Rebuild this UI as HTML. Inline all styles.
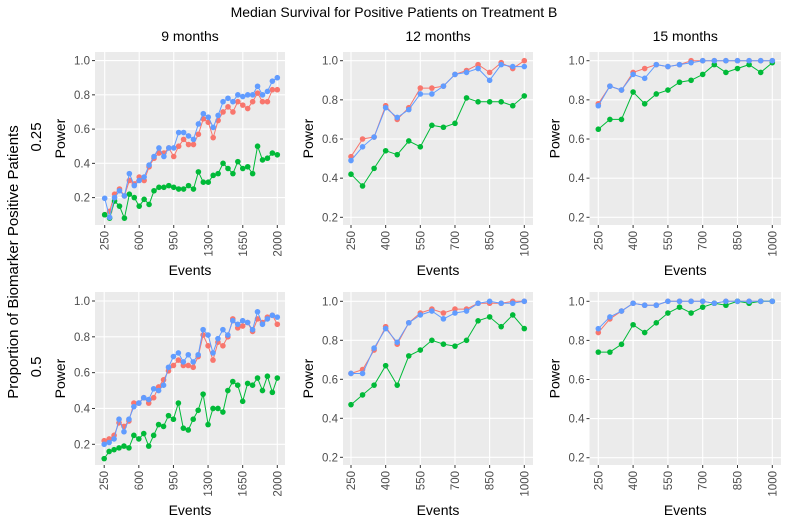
<!DOCTYPE html>
<html><head><meta charset="utf-8"><style>
body{margin:0;background:#fff;}
svg{display:block;font-family:"Liberation Sans",Arial,sans-serif;}
</style></head><body>
<svg id="chart" width="788" height="527" viewBox="0 0 788 527">
<text x="394" y="17" text-anchor="middle" font-size="14" fill="#000">Median Survival for Positive Patients on Treatment B</text>
<text transform="translate(18,262) rotate(-90)" text-anchor="middle" font-size="15" fill="#000">Proportion of Biomarker Positive Patients</text>
<text transform="translate(41,137) rotate(-90)" text-anchor="middle" font-size="15" fill="#000">0.25</text>
<text transform="translate(41,367) rotate(-90)" text-anchor="middle" font-size="15" fill="#000">0.5</text>
<g id="panels"></g>
</svg>
<script>
const colTitles = ["9 months", "12 months", "15 months"];
const xShort = [250,300,350,400,450,500,550,600,650,700,750,800,850,900,950,1000];
const xLong = [250,300,350,400,450,500,550,600,650,700,750,800,850,900,950,1000,1050,1100,1150,1200,1250,1300,1350,1400,1450,1500,1550,1600,1650,1700,1750,1800,1850,1900,1950,2000];
const ticksLong = [250,600,950,1300,1650,2000];
const ticksShort = [250,400,550,700,850,1000];
const yTicks = [0.2,0.4,0.6,0.8,1.0];
const yTickLabels = ["0.2","0.4","0.6","0.8","1.0"];

const p1Red = [0.10,0.12,0.22,0.25,0.21,0.30,0.28,0.32,0.30,0.38,0.43,0.46,0.46,0.49,0.44,0.50,0.54,0.51,0.51,0.57,0.66,0.64,0.55,0.65,0.70,0.73,0.70,0.76,0.74,0.72,0.76,0.81,0.76,0.76,0.83,0.83];
const p1Blue = [0.196,0.085,0.20,0.24,0.21,0.34,0.27,0.30,0.32,0.39,0.44,0.49,0.44,0.49,0.49,0.58,0.58,0.56,0.54,0.63,0.69,0.67,0.61,0.68,0.76,0.78,0.76,0.80,0.79,0.80,0.80,0.85,0.80,0.82,0.88,0.90];
const p1Green = [0.10,0.08,0.18,0.15,0.08,0.22,0.20,0.15,0.19,0.16,0.24,0.26,0.26,0.27,0.26,0.25,0.25,0.27,0.25,0.35,0.29,0.29,0.33,0.34,0.40,0.37,0.34,0.41,0.37,0.38,0.34,0.50,0.42,0.43,0.46,0.45];

const p2Red = [0.51,0.60,0.61,0.77,0.70,0.76,0.86,0.86,0.87,0.93,0.95,0.98,0.94,0.99,0.96,1.0];
const p2Blue = [0.49,0.56,0.61,0.76,0.71,0.75,0.83,0.83,0.87,0.93,0.94,0.96,0.90,0.98,0.97,0.97];
const p2Green = [0.42,0.36,0.45,0.54,0.52,0.59,0.56,0.67,0.66,0.68,0.81,0.79,0.79,0.79,0.77,0.82];

const p3Red = [0.78,0.87,0.85,0.94,0.96,0.98,0.97,0.98,1,1,1,1,1,1,1,1];
const p3Blue = [0.77,0.87,0.85,0.93,0.91,0.98,0.97,0.98,0.99,1,1,1,1,1,1,1];
const p3Green = [0.65,0.70,0.70,0.84,0.78,0.83,0.85,0.89,0.90,0.93,0.98,0.94,0.96,0.98,0.94,0.99];

const p4Red = [0.22,0.23,0.25,0.32,0.30,0.33,0.43,0.43,0.46,0.43,0.46,0.52,0.56,0.61,0.64,0.67,0.64,0.64,0.63,0.69,0.81,0.75,0.67,0.77,0.75,0.80,0.90,0.85,0.86,0.88,0.83,0.90,0.88,0.91,0.92,0.87];
const p4Blue = [0.20,0.21,0.23,0.34,0.27,0.34,0.41,0.43,0.46,0.45,0.51,0.50,0.53,0.63,0.69,0.71,0.66,0.70,0.66,0.70,0.84,0.81,0.71,0.79,0.84,0.81,0.89,0.87,0.89,0.88,0.84,0.94,0.87,0.90,0.92,0.91];
const p4Green = [0.12,0.16,0.17,0.18,0.19,0.18,0.25,0.23,0.26,0.19,0.25,0.31,0.30,0.36,0.34,0.43,0.29,0.28,0.34,0.39,0.48,0.31,0.40,0.40,0.38,0.50,0.55,0.53,0.44,0.54,0.53,0.57,0.50,0.58,0.49,0.57];

const p5Red = [0.63,0.65,0.75,0.87,0.78,0.89,0.94,0.96,0.94,0.96,0.96,0.99,0.99,0.99,1.0,1.0];
const p5Blue = [0.63,0.63,0.76,0.86,0.79,0.89,0.93,0.95,0.91,0.94,0.95,0.99,1.0,0.99,0.99,1.0];
const p5Green = [0.47,0.52,0.57,0.67,0.57,0.72,0.75,0.80,0.78,0.77,0.80,0.90,0.92,0.87,0.93,0.86];

const p6Red = [0.84,0.91,0.95,0.99,0.98,0.98,1,1,1,1,0.99,1,1,1,1,1];
const p6Blue = [0.86,0.92,0.95,0.99,0.98,0.98,1,1,1,1,0.99,1,1,1,1,1];
const p6Green = [0.74,0.74,0.78,0.88,0.84,0.89,0.94,0.97,0.94,0.97,0.99,0.98,1,0.99,1,1];

const NS = "http://www.w3.org/2000/svg";
const root = document.getElementById('panels');
function mk(tag, attrs, parent){const e=document.createElementNS(NS,tag);for(const k in attrs)e.setAttribute(k,attrs[k]);(parent||root).appendChild(e);return e;}

// layout geometry (not data)
const panels = [
 {col:0,row:0,x:xLong,ticks:ticksLong,red:p1Red,blue:p1Blue,green:p1Green,bx:95,bw:190,px0:104.7,px1:277.3,y1:60.6,y02:197.6},
 {col:1,row:0,x:xShort,ticks:ticksShort,red:p2Red,blue:p2Blue,green:p2Green,bx:343,bw:190,px0:351,px1:524.3,y1:60.7,y02:217.3},
 {col:2,row:0,x:xShort,ticks:ticksShort,red:p3Red,blue:p3Blue,green:p3Green,bx:589.5,bw:191.5,px0:598.3,px1:772.3,y1:60.7,y02:217.3},
 {col:0,row:1,x:xLong,ticks:ticksLong,red:p4Red,blue:p4Blue,green:p4Green,bx:95,bw:190,px0:104.2,px1:277.3,y1:301,y02:444.3},
 {col:1,row:1,x:xShort,ticks:ticksShort,red:p5Red,blue:p5Blue,green:p5Green,bx:343,bw:190,px0:351,px1:524.3,y1:301.3,y02:457.3},
 {col:2,row:1,x:xShort,ticks:ticksShort,red:p6Red,blue:p6Blue,green:p6Green,bx:589.5,bw:191.5,px0:598.3,px1:772.3,y1:301.3,y02:457.7}
];
const colors = {red:"#F8766D", green:"#00BA38", blue:"#619CFF"};

panels.forEach((p,pi)=>{
  const top = p.row===0 ? 52 : 292, h = 173;
  const xmin=p.x[0], xmax=p.x[p.x.length-1];
  const sx = v => p.px0 + (v-xmin)/(xmax-xmin)*(p.px1-p.px0);
  const sy = v => p.y02 + (v-0.2)/0.8*(p.y1-p.y02);
  const g = mk('g',{});
  
  
  const bg = mk('rect',{x:p.bx,y:top,width:p.bw,height:h,fill:"#EBEBEB"},g);
  
  
  if(p.row===0){
    const ct = mk('text',{x:p.bx+p.bw/2,y:41,'text-anchor':'middle','font-size':14,fill:'#000'},g);
    ct.textContent = colTitles[p.col];
    
    
  }
  yTicks.forEach((t,i)=>{
    const y = sy(t);
    const gl = mk('line',{x1:p.bx,x2:p.bx+p.bw,y1:y,y2:y,stroke:'#fff','stroke-width':1.1},g);
    
    
    mk('line',{x1:p.bx-3,x2:p.bx,y1:y,y2:y,stroke:'#333','stroke-width':1},g);
    const tl = mk('text',{x:p.bx-5,y:y+4,'text-anchor':'end','font-size':11.5,fill:'#4D4D4D'},g);
    tl.textContent = yTickLabels[i];
    
    
  });
  p.ticks.forEach(t=>{
    const x = sx(t);
    const gl = mk('line',{x1:x,x2:x,y1:top,y2:top+h,stroke:'#fff','stroke-width':1.1},g);
    
    
    mk('line',{x1:x,x2:x,y1:top+h,y2:top+h+3,stroke:'#333','stroke-width':1},g);
    const tl = mk('text',{transform:`translate(${x+4},${top+h+6}) rotate(-90)`,'text-anchor':'end','font-size':11.5,fill:'#4D4D4D'},g);
    tl.textContent = String(t);
    
    
  });
  const xt = mk('text',{x:p.bx+p.bw/2,y:top+h+50,'text-anchor':'middle','font-size':14,fill:'#000'},g);
  xt.textContent = 'Events';
  
  
  const yt = mk('text',{transform:`translate(${p.bx-30},${top+h/2}) rotate(-90)`,'text-anchor':'middle','font-size':14,fill:'#000'},g);
  yt.textContent = 'Power';
  
  
  ['red','green','blue'].forEach(s=>{
    const vals = p[s];
    const pts = vals.map((v,i)=>sx(p.x[i]).toFixed(1)+','+sy(v).toFixed(1)).join(' ');
    const pl = mk('polyline',{points:pts,fill:'none',stroke:colors[s],'stroke-width':1},g);
    
    
    vals.forEach((v,i)=>{
      const c = mk('circle',{cx:sx(p.x[i]),cy:sy(v),r:2.8,fill:colors[s]},g);
      
      
    });
  });
});
</script>
</body></html>
